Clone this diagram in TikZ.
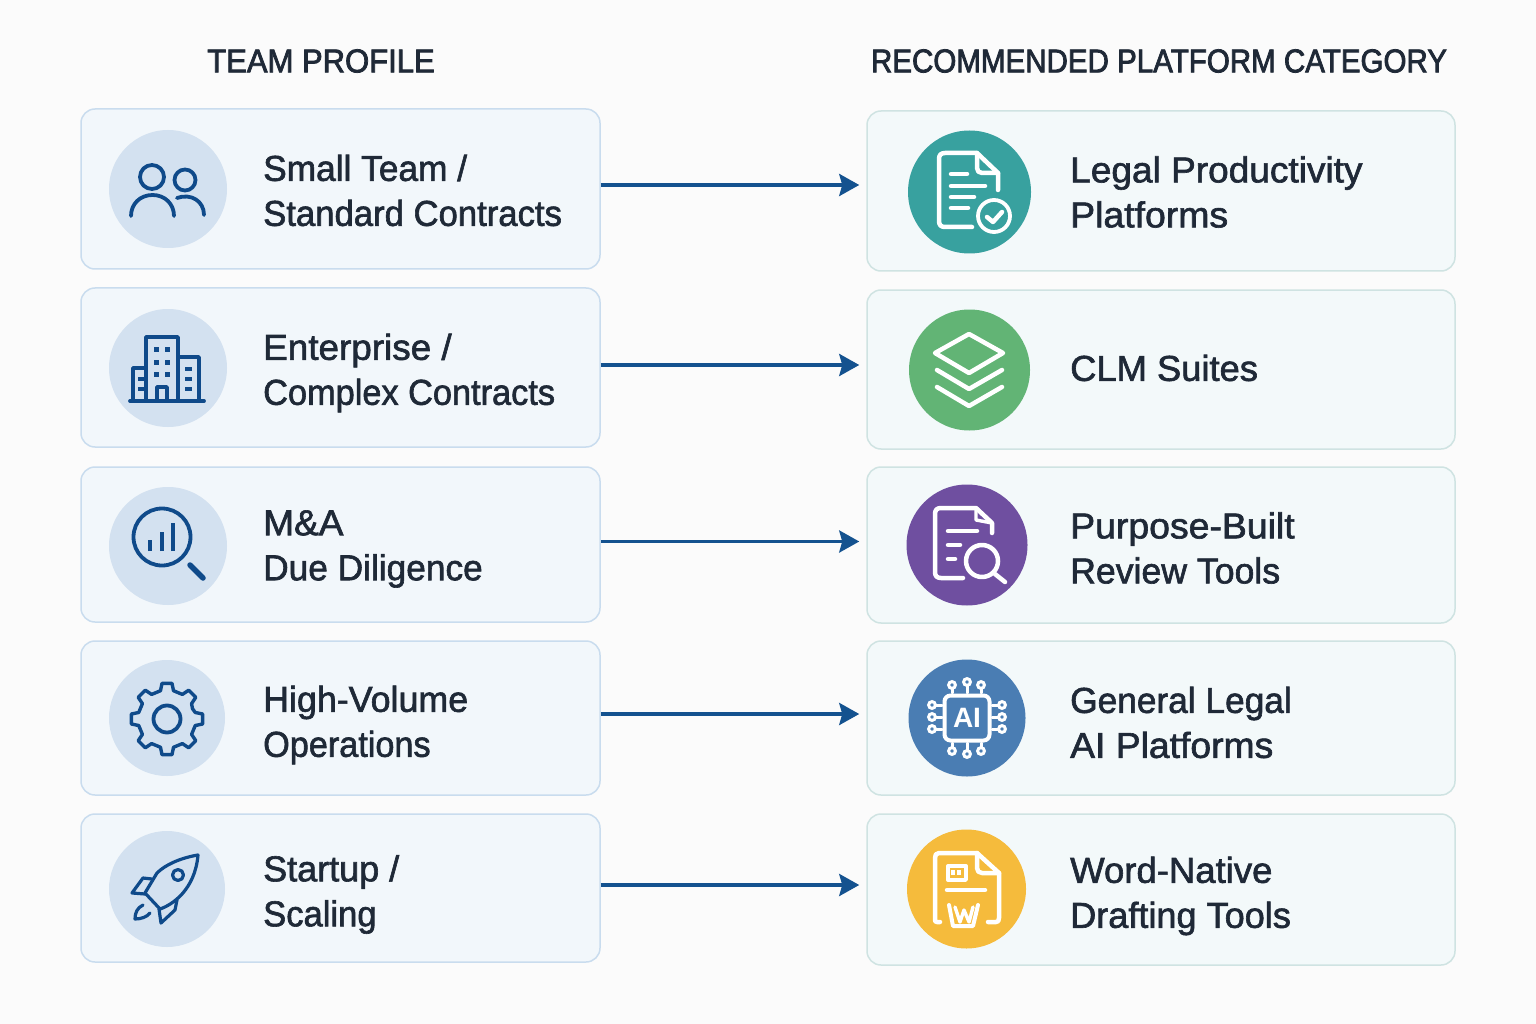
\documentclass[tikz,border=0pt]{standalone}
\usepackage{fontspec}
\usepackage{graphicx}
\setmainfont{Liberation Sans}[FakeStretch=0.98,FakeBold=1.7]
\newfontfamily\headA{Liberation Sans}[FakeStretch=0.94,FakeBold=2.3]
\newfontfamily\headB{Liberation Sans}[FakeStretch=0.895,FakeBold=2.3]
\newfontfamily\chipfont{Liberation Sans Bold}
\usetikzlibrary{arrows.meta}
\definecolor{bgc}{HTML}{FBFBFB}
\definecolor{lfill}{HTML}{F2F7FB}
\definecolor{ledge}{HTML}{C9DCEE}
\definecolor{rfill}{HTML}{F3F9FA}
\definecolor{redge}{HTML}{CFE3E2}
\definecolor{lcirc}{HTML}{D3E1F0}
\definecolor{ink}{HTML}{0F4A8A}
\definecolor{arrowc}{HTML}{14528F}
\definecolor{txt}{HTML}{1F2937}
\definecolor{cteal}{HTML}{38A19F}
\definecolor{cgreen}{HTML}{62B475}
\definecolor{cpurple}{HTML}{6F4FA0}
\definecolor{cblue}{HTML}{4A7DB3}
\definecolor{cyellow}{HTML}{F5BB3C}
\tikzset{
 lbox/.style={draw=ledge,fill=lfill,line width=1.5pt,rounded corners=14pt,inner sep=0pt},
 rbox/.style={draw=redge,fill=rfill,line width=1.5pt,rounded corners=14pt,inner sep=0pt},
 lab/.style={anchor=west,align=left,inner sep=0pt,text=txt,font=\fontsize{36}{45}\selectfont},
 head/.style={inner sep=0pt,text=txt,font=\fontsize{33}{40}\selectfont},
 conn/.style={draw=arrowc,line width=3.5pt,-{Stealth[length=20pt,width=22pt,inset=3pt]},shorten >=7pt},
 lic/.style={draw=ink,line width=3.8pt,line cap=round,line join=round},
 ric/.style={draw=white,line width=4.5pt,line cap=round,line join=round},
 circ/.style={circle,draw=none,inner sep=0pt}
}
\newcommand{\sx}[2]{\scalebox{#1}[1]{#2}}
\begin{document}
\begin{tikzpicture}[x=1pt,y=-1pt]
\useasboundingbox (0,0) rectangle (1536,1024);
\fill[bgc] (0,0) rectangle (1536,1024);
% headers
\node[head] (h1) at (321,61) {\headA TEAM PROFILE};
\node[head] (h2) at (1159,61) {\headB RECOMMENDED PLATFORM CATEGORY};
% left boxes
\node[lbox,minimum width=519pt,minimum height=160pt] (l1) at (340.5,189) {};
\node[lbox,minimum width=519pt,minimum height=159pt] (l2) at (340.5,367.5) {};
\node[lbox,minimum width=519pt,minimum height=155pt] (l3) at (340.5,544.5) {};
\node[lbox,minimum width=519pt,minimum height=154pt] (l4) at (340.5,718) {};
\node[lbox,minimum width=519pt,minimum height=148pt] (l5) at (340.5,888) {};
% right boxes
\node[rbox,minimum width=588pt,minimum height=160pt] (r1) at (1161,191) {};
\node[rbox,minimum width=588pt,minimum height=159pt] (r2) at (1161,369.5) {};
\node[rbox,minimum width=588pt,minimum height=156pt] (r3) at (1161,545) {};
\node[rbox,minimum width=588pt,minimum height=154pt] (r4) at (1161,718) {};
\node[rbox,minimum width=588pt,minimum height=151pt] (r5) at (1161,889.5) {};
% connectors
\coordinate (y1) at (0,185);
\coordinate (y2) at (0,365);
\coordinate (y3) at (0,541.5);
\coordinate (y4) at (0,714);
\coordinate (y5) at (0,885);
\foreach \i in {1,...,5}{
  \draw[conn] (l\i.east |- y\i) -- (r\i.west |- y\i);
}
% left labels
\node[lab] (t1) at (263,190.5) {\sx{1.0}{Small Team /}\\\sx{0.983}{Standard Contracts}};
\node[lab] (t2) at (263,373) {\sx{1.045}{Enterprise /}\\\sx{0.973}{Complex Contracts}};
\node[lab] (t3) at (263,549) {\sx{1.05}{M\&A}\\\sx{1.0}{Due Diligence}};
\node[lab] (t4) at (263,725) {\sx{1.015}{High-Volume}\\\sx{0.97}{Operations}};
\node[lab] (t5) at (263,894.5) {\sx{1.02}{Startup /}\\\sx{0.98}{Scaling}};
% right labels
\node[lab] (u1) at (1070,192) {\sx{1.05}{Legal Productivity}\\\sx{1.06}{Platforms}};
\node[lab] (u2) at (1070,368) {\sx{1.03}{CLM Suites}};
\node[lab] (u3) at (1070,548) {\sx{1.06}{Purpose-Built}\\\sx{1.01}{Review Tools}};
\node[lab] (u4) at (1070,722.5) {\sx{1.0}{General Legal}\\\sx{1.057}{AI Platforms}};
\node[lab] (u5) at (1070,896) {\sx{1.035}{Word-Native}\\\sx{1.023}{Drafting Tools}};
% left circles
\node[circ,fill=lcirc,minimum size=118pt] (c1) at (168,189) {};
\node[circ,fill=lcirc,minimum size=118pt] (c2) at (168,368) {};
\node[circ,fill=lcirc,minimum size=118pt] (c3) at (168,546) {};
\node[circ,fill=lcirc,minimum size=116pt] (c4) at (167,718) {};
\node[circ,fill=lcirc,minimum size=116pt] (c5) at (167,889) {};
% right circles
\node[circ,fill=cteal,minimum size=123pt] (d1) at (969.5,192) {};
\node[circ,fill=cgreen,minimum size=121pt] (d2) at (969.5,370) {};
\node[circ,fill=cpurple,minimum size=121pt] (d3) at (967,545) {};
\node[circ,fill=cblue,minimum size=117pt] (d4) at (967,718) {};
\node[circ,fill=cyellow,minimum size=119pt] (d5) at (966.5,889) {};
% icon: people
\draw[lic] (152,177) circle (12);
\draw[lic] (185,180) circle (10.5);
\draw[lic] (131,216) .. controls (131,204) and (140,195) .. (152.5,195) .. controls (165,195) and (174,204) .. (174,216);
\draw[lic] (177,198) .. controls (191,193) and (204,201) .. (204,215);
% icon: building
\draw[lic,line cap=butt,line width=3.4pt] (146,401) -- (146,337) -- (178,337) -- (178,401);
\draw[lic,line cap=butt,line width=3.4pt] (178,357) -- (199,357) -- (199,401);
\draw[lic,line cap=butt,line width=3.4pt] (146,368) -- (133,368) -- (133,401);
\draw[lic,line cap=butt,line width=3.4pt] (157,401) -- (157,387) -- (167,387) -- (167,401);
\draw[lic] (130,401) -- (204,401);
\foreach \x in {156,167}\foreach \y in {349,362,374}{\fill[ink] (\x-2.5,\y-2.5) rectangle (\x+2.5,\y+2.5);}
\foreach \y in {369,379,389}{\fill[ink] (184.5,\y-2) rectangle (191.5,\y+2);}
\foreach \y in {379,389}{\fill[ink] (138,\y-2) rectangle (143.5,\y+2);}
% icon: magnifier with bars
\draw[lic] (162,537) circle (28.5);
\draw[lic,line cap=butt,line width=4.5pt] (150,551) -- (150,540);
\draw[lic,line cap=butt,line width=4.5pt] (162,551) -- (162,532);
\draw[lic,line cap=butt,line width=4.5pt] (173,551) -- (173,523);
\draw[lic,line width=5.5pt] (190,565) -- (203,578);
% icon: gear
\draw[lic] (167,719) circle (13.5);
\draw[lic,line width=3.4pt] ([shift={(-22:27.5)}]167,719)
  \foreach \a in {0,45,...,315}{
    -- ([shift={(\a-13:29)}]167,719)
    -- ([shift={(\a-8:36)}]167,719)
    -- ([shift={(\a+8:36)}]167,719)
    -- ([shift={(\a+13:29)}]167,719)
  } -- cycle;
% icon: rocket
\draw[lic,line width=3.2pt] (198,855) .. controls (180,858) and (165,865) .. (157,873) -- (145,893) -- (160,909) .. controls (172,905) and (195,890) .. (198,855) -- cycle;
\draw[lic,line width=3.2pt] (178,875) circle (5.5);
\draw[lic,line width=3.2pt] (152,879) -- (143,878) -- (132,893) -- (145,894);
\draw[lic,line width=3.2pt] (177,900) -- (175,910) -- (161,923) -- (159,909);
\draw[lic,line width=3.2pt] (143,905) .. controls (137,908) and (135,913) .. (135,919) .. controls (141,919) and (147,917) .. (150,913);
% icon: doc with check
\draw[ric] (972,227) -- (945,227) .. controls (941,227) and (939,225) .. (939,221) -- (939,159) .. controls (939,155) and (941,153) .. (945,153) -- (977,153) -- (998,173) -- (998,190);
\draw[ric] (977,153) -- (977,168) .. controls (977,171) and (979,173) .. (982,173) -- (998,173);
\draw[ric] (951,174) -- (967,174);
\draw[ric] (951,186) -- (985,186);
\draw[ric] (951,197) -- (974,197);
\draw[ric] (951,208) -- (968,208);
\draw[ric,line width=3.8pt] (994,216) circle (16);
\draw[ric] (987,217) -- (993,222) -- (1002,212);
% icon: layers
\draw[ric] (969,334) -- (1003,353) -- (969,373) -- (935,353) -- cycle;
\draw[ric] (937,370) -- (969,389) -- (1002,370);
\draw[ric] (937,387) -- (969,406) -- (1002,387);
% icon: doc with magnifier
\draw[ric] (963,578) -- (941,578) .. controls (937,578) and (935,576) .. (935,572) -- (935,514) .. controls (935,510) and (937,508) .. (941,508) -- (976,508) -- (992,523) -- (992,533);
\draw[ric,line width=3.4pt] (976,508) -- (976,520) -- (992,523);
\draw[ric] (948,531) -- (977,531);
\draw[ric] (948,545) -- (960,545);
\draw[ric] (948,559) -- (955,559);
\draw[ric] (982,561) circle (16);
\draw[ric] (995,574) -- (1005,582);
% icon: AI chip
\foreach \x in {952,967,981}{
  \draw[ric,line width=3pt] (\x,693) -- (\x,686);
  \draw[ric,line width=3pt] (\x,743) -- (\x,751);
}
\foreach \y in {705,717,729}{
  \draw[ric,line width=3pt] (942,\y) -- (934,\y);
  \draw[ric,line width=3pt] (992,\y) -- (1000,\y);
}
\foreach \x/\y in {952/685,967/682,981/685,952/751,967/754,981/751,932/705,932/717,932/729,1002/705,1002/717,1002/729}{
  \draw[draw=white,fill=cblue,line width=3pt] (\x,\y) circle (3.4);
}
\draw[ric,line width=4pt,rounded corners=6pt,fill=cblue] (944.5,695.5) rectangle (989.5,740.5);
\node[inner sep=0pt,text=white,font=\chipfont\fontsize{28}{28}\selectfont] (ai) at (967,718) {AI};
% icon: word doc
\draw[ric] (940,922) -- (937,922) .. controls (935.5,922) and (935,921) .. (935,920) -- (935,858) .. controls (935,855) and (936,853) .. (939,853) -- (977,853) -- (999,873) -- (999,918) .. controls (999,921) and (998,922) .. (996,922) -- (988,922);
\draw[ric] (977,853) -- (977,868) .. controls (977,871) and (979,873) .. (982,873) -- (999,873);
\draw[ric,line width=3.4pt] (948,866) rectangle (966,880);
\fill[white] (950.5,870) rectangle (954.5,875);
\fill[white] (957,870) rectangle (961,875);
\draw[ric] (947,890) -- (985,890);
\draw[ric,line width=4pt] (949,905) -- (953,926) -- (973,926) -- (978,905);
\draw[ric,line width=3.4pt] (955,907) -- (960,922) -- (964,910) -- (969,922) -- (973,907);
\end{tikzpicture}
\end{document}
